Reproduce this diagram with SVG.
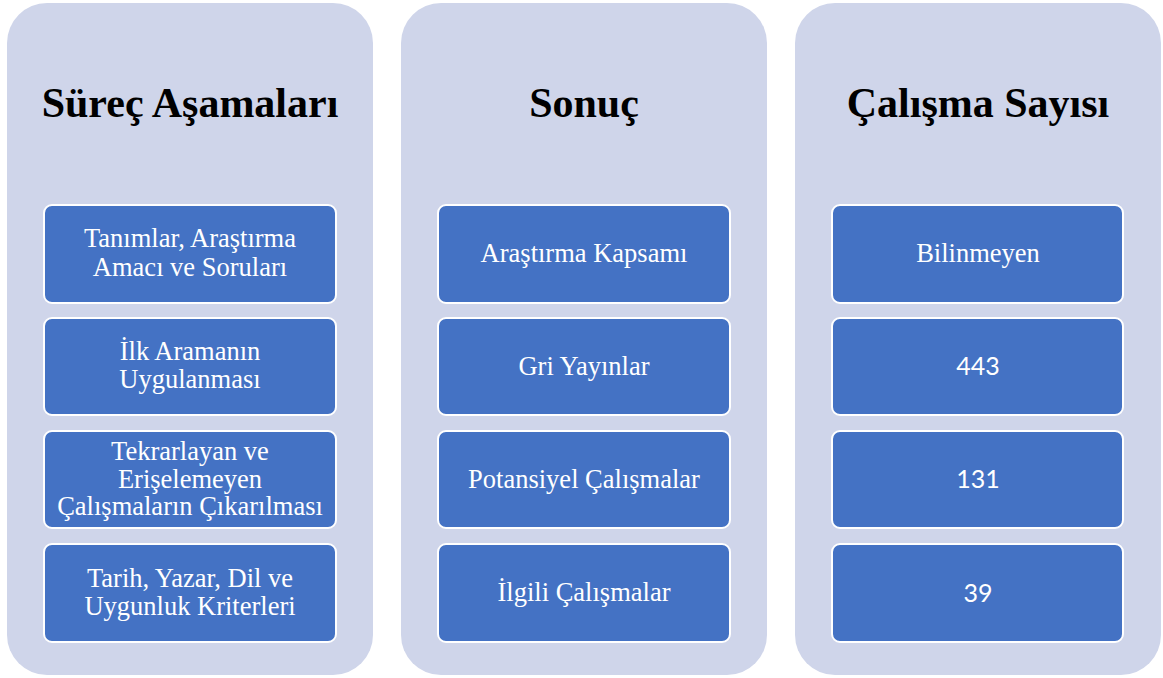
<svg xmlns="http://www.w3.org/2000/svg" width="1163" height="678" viewBox="0 0 1163 678">
  <style>
    .panel { fill: #CFD5EA; }
    .box { fill: #4472C4; stroke: #FFFFFF; stroke-width: 2; }
    .head { font-family: "Liberation Serif", "Times New Roman", serif; font-weight: bold; font-size: 42px; fill: #000000; text-anchor: middle; }
    .label { font-family: "Liberation Serif", "Times New Roman", serif; font-size: 26.5px; fill: #FFFFFF; text-anchor: middle; }
    .num { font-family: "Lato", "Open Sans", sans-serif; font-size: 25px; fill: #FFFFFF; text-anchor: middle; }
  </style>
  <rect width="1163" height="678" fill="#FFFFFF"/>

  <!-- Column 1: process stages -->
  <g id="col-stages">
    <rect class="panel" x="7" y="3" width="366" height="672" rx="40"/>
    <text class="head" x="190" y="117">Süreç Aşamaları</text>
  </g>
  <g id="stage-1">
    <rect class="box" x="44" y="205" width="292" height="98" rx="8"/>
    <text class="label" x="190" y="247">Tanımlar, Araştırma</text>
    <text class="label" x="190" y="276">Amacı ve Soruları</text>
  </g>
  <g id="stage-2">
    <rect class="box" x="44" y="318" width="292" height="97" rx="8"/>
    <text class="label" x="190" y="360">İlk Aramanın</text>
    <text class="label" x="190" y="388">Uygulanması</text>
  </g>
  <g id="stage-3">
    <rect class="box" x="44" y="431" width="292" height="97" rx="8"/>
    <text class="label" x="190" y="460">Tekrarlayan  ve</text>
    <text class="label" x="190" y="488">Erişelemeyen</text>
    <text class="label" x="190" y="515">Çalışmaların Çıkarılması</text>
  </g>
  <g id="stage-4">
    <rect class="box" x="44" y="544" width="292" height="98" rx="8"/>
    <text class="label" x="190" y="587">Tarih,  Yazar, Dil ve</text>
    <text class="label" x="190" y="615">Uygunluk Kriterleri</text>
  </g>

  <!-- Column 2: results -->
  <g id="col-result">
    <rect class="panel" x="401" y="3" width="366" height="672" rx="40"/>
    <text class="head" x="584" y="117">Sonuç</text>
  </g>
  <g id="result-1">
    <rect class="box" x="438" y="205" width="292" height="98" rx="8"/>
    <text class="label" x="584" y="262">Araştırma Kapsamı</text>
  </g>
  <g id="result-2">
    <rect class="box" x="438" y="318" width="292" height="97" rx="8"/>
    <text class="label" x="584" y="375">Gri Yayınlar</text>
  </g>
  <g id="result-3">
    <rect class="box" x="438" y="431" width="292" height="97" rx="8"/>
    <text class="label" x="584" y="488">Potansiyel Çalışmalar</text>
  </g>
  <g id="result-4">
    <rect class="box" x="438" y="544" width="292" height="98" rx="8"/>
    <text class="label" x="584" y="601">İlgili Çalışmalar</text>
  </g>

  <!-- Column 3: number of studies -->
  <g id="col-count">
    <rect class="panel" x="795" y="3" width="366" height="672" rx="40"/>
    <text class="head" x="978" y="117">Çalışma Sayısı</text>
  </g>
  <g id="count-1">
    <rect class="box" x="832" y="205" width="291" height="98" rx="8"/>
    <text class="label" x="978" y="262">Bilinmeyen</text>
  </g>
  <g id="count-2">
    <rect class="box" x="832" y="318" width="291" height="97" rx="8"/>
    <text class="num" x="978" y="375">443</text>
  </g>
  <g id="count-3">
    <rect class="box" x="832" y="431" width="291" height="97" rx="8"/>
    <text class="num" x="978" y="488">131</text>
  </g>
  <g id="count-4">
    <rect class="box" x="832" y="544" width="291" height="98" rx="8"/>
    <text class="num" x="978" y="602">39</text>
  </g>

  <!-- no connectors in this layout -->
  <g id="connectors"/>
</svg>
